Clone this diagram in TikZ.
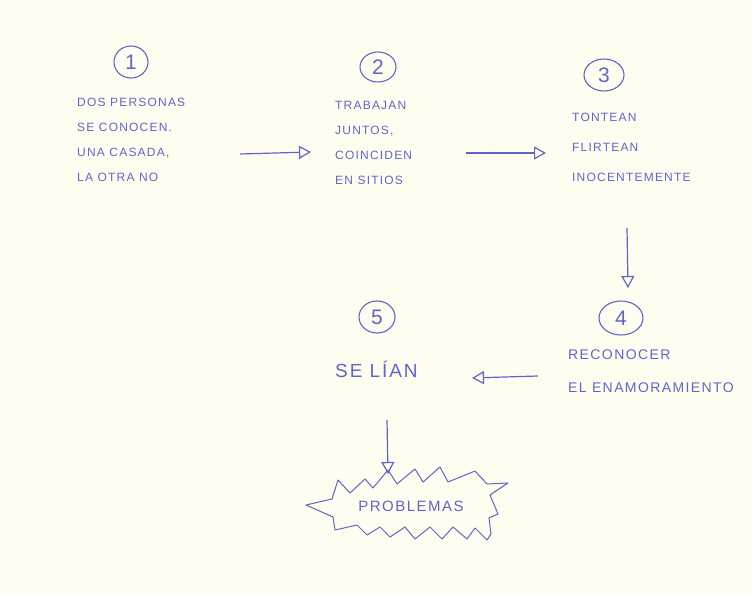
\documentclass[tikz,border=0pt]{standalone}
\usepackage{fontspec}
\setmainfont{Liberation Sans}[LetterSpace=10]
\usetikzlibrary{arrows.meta}
\definecolor{ink}{RGB}{100,100,200}
\definecolor{paper}{RGB}{254,253,240}
\tikzset{
  x=1pt, y=-1pt,
  hand/.style={draw=ink, line width=1.1pt},
  txt/.style={text=ink, anchor=north west, inner sep=0pt, align=left, font=\fontsize{12}{25}\selectfont},
  arr/.style={draw=ink, line width=1.2pt, -{Triangle[open, length=12pt, width=13pt, line width=1.2pt]}},
  numtxt/.style={text=ink, font=\fontsize{21}{21}\selectfont, inner sep=0pt}
}
\begin{document}
\begin{tikzpicture}
\fill[paper] (0,0) rectangle (752,593);
\useasboundingbox (0,0) rectangle (752,593);

% numbers in circles
\node[numtxt] (n1) at (131,62) {1};
\draw[hand] (n1.center) ellipse [x radius=17, y radius=16];
\node[numtxt] (n2) at (378,67) {2};
\draw[hand] (n2.center) ellipse [x radius=18, y radius=15];
\node[numtxt] (n3) at (604,75) {3};
\draw[hand] (n3.center) ellipse [x radius=20, y radius=16];
\node[numtxt] (n4) at (621,318) {4};
\draw[hand] (n4.center) ellipse [x radius=22, y radius=17];
\node[numtxt] (n5) at (377,317) {5};
\draw[hand] (n5.center) ellipse [x radius=18, y radius=16];

% texts
\node[txt] (t1) at (77,98) {DOS PERSONAS\\SE CONOCEN.\\UNA CASADA,\\LA OTRA NO};
\node[txt] (t2) at (335,101) {TRABAJAN\\JUNTOS,\\COINCIDEN\\EN SITIOS};
\node[txt, font=\fontsize{12}{30}\selectfont] (t3) at (572,113) {TONTEAN\\FLIRTEAN\\INOCENTEMENTE};
\node[txt, font=\fontsize{14}{33}\selectfont] (t4) at (568,350) {RECONOCER\\EL ENAMORAMIENTO};
\node[txt, font=\fontsize{19}{20}\selectfont] (t5) at (335,361) {SE LÍAN};

% arrow endpoints
\coordinate (a1s) at (240,154); \coordinate (a1e) at (311,152);
\coordinate (a2s) at (466,153); \coordinate (a2e) at (546,153);
\coordinate (a3s) at (627,228); \coordinate (a3e) at (628,288);
\coordinate (a4s) at (538,376); \coordinate (a4e) at (472,378);
\coordinate (a5s) at (387,420); \coordinate (a5e) at (388,474);

\draw[arr] (a1s) -- (a1e);
\draw[arr] (a2s) -- (a2e);
\draw[arr] (a3s) -- (a3e);
\draw[arr] (a4s) -- (a4e);
\draw[arr] (a5s) -- (a5e);

% starburst
\draw[draw=ink, line width=1pt, line join=round]
 (338,480) -- (350,493) -- (365,479) -- (373,488) -- (388,470) -- (397,484)
 -- (415,469) -- (423,482) -- (440,467) -- (448,482) -- (475,471) -- (487,484)
 -- (508,483) -- (490,495) -- (498,514) -- (489,518) -- (491,534) -- (487,540)
 -- (475,528) -- (467,539) -- (453,527) -- (442,539) -- (430,527) -- (415,539)
 -- (405,527) -- (390,537) -- (380,527) -- (367,535) -- (357,525) -- (335,530)
 -- (333,517) -- (306,505) -- (332,499) -- cycle;
\node[text=ink, font=\fontsize{15}{15}\selectfont, inner sep=0pt] (p) at (411,506) {PROBLEMAS};
\end{tikzpicture}
\end{document}
